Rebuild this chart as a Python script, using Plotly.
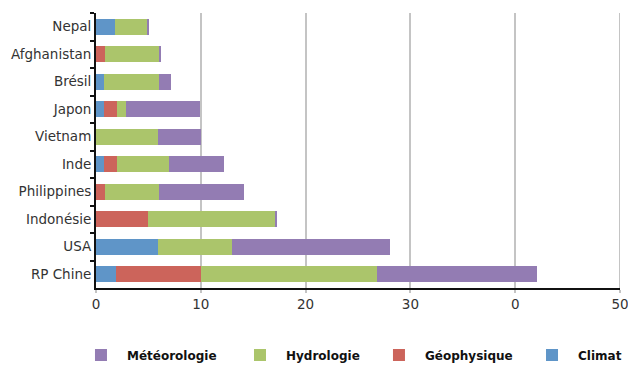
import plotly.graph_objects as go

countries = ["Nepal", "Afghanistan", "Brésil", "Japon", "Vietnam", "Inde",
             "Philippines", "Indonésie", "USA", "RP Chine"]
climat = [1.8, 0, 0.8, 0.8, 0, 0.8, 0, 0, 5.9, 1.9]
geophysique = [0, 0.9, 0, 1.2, 0, 1.2, 0.9, 4.95, 0, 8.1]
hydrologie = [3.1, 5.1, 5.2, 0.9, 5.9, 5.0, 5.1, 12.15, 7.1, 16.8]
meteorologie = [0.2, 0.2, 1.2, 7.05, 4.1, 5.2, 8.1, 0.15, 15.1, 15.3]

tick_vals = [0, 10, 20, 30, 40, 50]
tick_text = ["0", "10", "20", "30", "0", "50"]

# (name, values, colour, legend id, legend x position in container fraction)
series = [
    ("Climat", climat, "#5F95C8", "legend4", 0.8376),
    ("Géophysique", geophysique, "#CC645B", "legend3", 0.5939),
    ("Hydrologie", hydrologie, "#ABC56B", "legend2", 0.3726),
    ("Météorologie", meteorologie, "#937CB3", "legend", 0.1194),
]

font_family = "'DejaVu Sans', sans-serif"
legend_font = dict(size=12, color="#111111", family=font_family, weight="bold")
grid_color = "#C4C4C4"

fig = go.Figure()
legends = {}
for name, vals, color, leg, lx in series:
    fig.add_trace(go.Bar(
        y=countries, x=vals, name=name, orientation="h",
        marker=dict(color=color, line=dict(width=0)),
        legend=leg, showlegend=True,
    ))
    legends[leg] = dict(
        orientation="h", xref="container", x=lx, xanchor="left",
        yref="container", y=0.033, yanchor="middle",
        font=legend_font, itemwidth=42, bgcolor="rgba(0,0,0,0)",
    )

# gridline at the axis end (plotly clips the one on the plot edge)
fig.add_shape(type="line", xref="x", yref="paper",
              x0=tick_vals[-1], x1=tick_vals[-1], y0=0, y1=1,
              line=dict(color=grid_color, width=2), layer="below")

fig.update_layout(
    barmode="stack",
    bargap=0.43,
    width=628, height=367,
    margin=dict(l=96, r=8, t=13, b=79, autoexpand=False),
    plot_bgcolor="white", paper_bgcolor="white",
    font=dict(family=font_family, size=13.5, color="#333333"),
    xaxis=dict(
        range=[0, 50], tickvals=tick_vals, ticktext=tick_text,
        showgrid=True, gridcolor=grid_color, gridwidth=2,
        showline=True, linecolor="#111111", linewidth=2,
        ticks="outside", ticklen=3, tickcolor=grid_color, tickwidth=2,
        ticklabelstandoff=0, ticklabeloverflow="allow",
        zeroline=False, automargin=False,
    ),
    yaxis=dict(
        autorange="reversed", categoryorder="array", categoryarray=countries,
        showline=True, linecolor="#111111", linewidth=2,
        ticks="outside", ticklen=4, tickcolor="#111111", tickwidth=2,
        tickson="boundaries", showgrid=False, automargin=False,
    ),
    **legends,
)

fig.write_html("out.html", config={"displayModeBar": False},
               post_script="document.body.style.margin='0';")
